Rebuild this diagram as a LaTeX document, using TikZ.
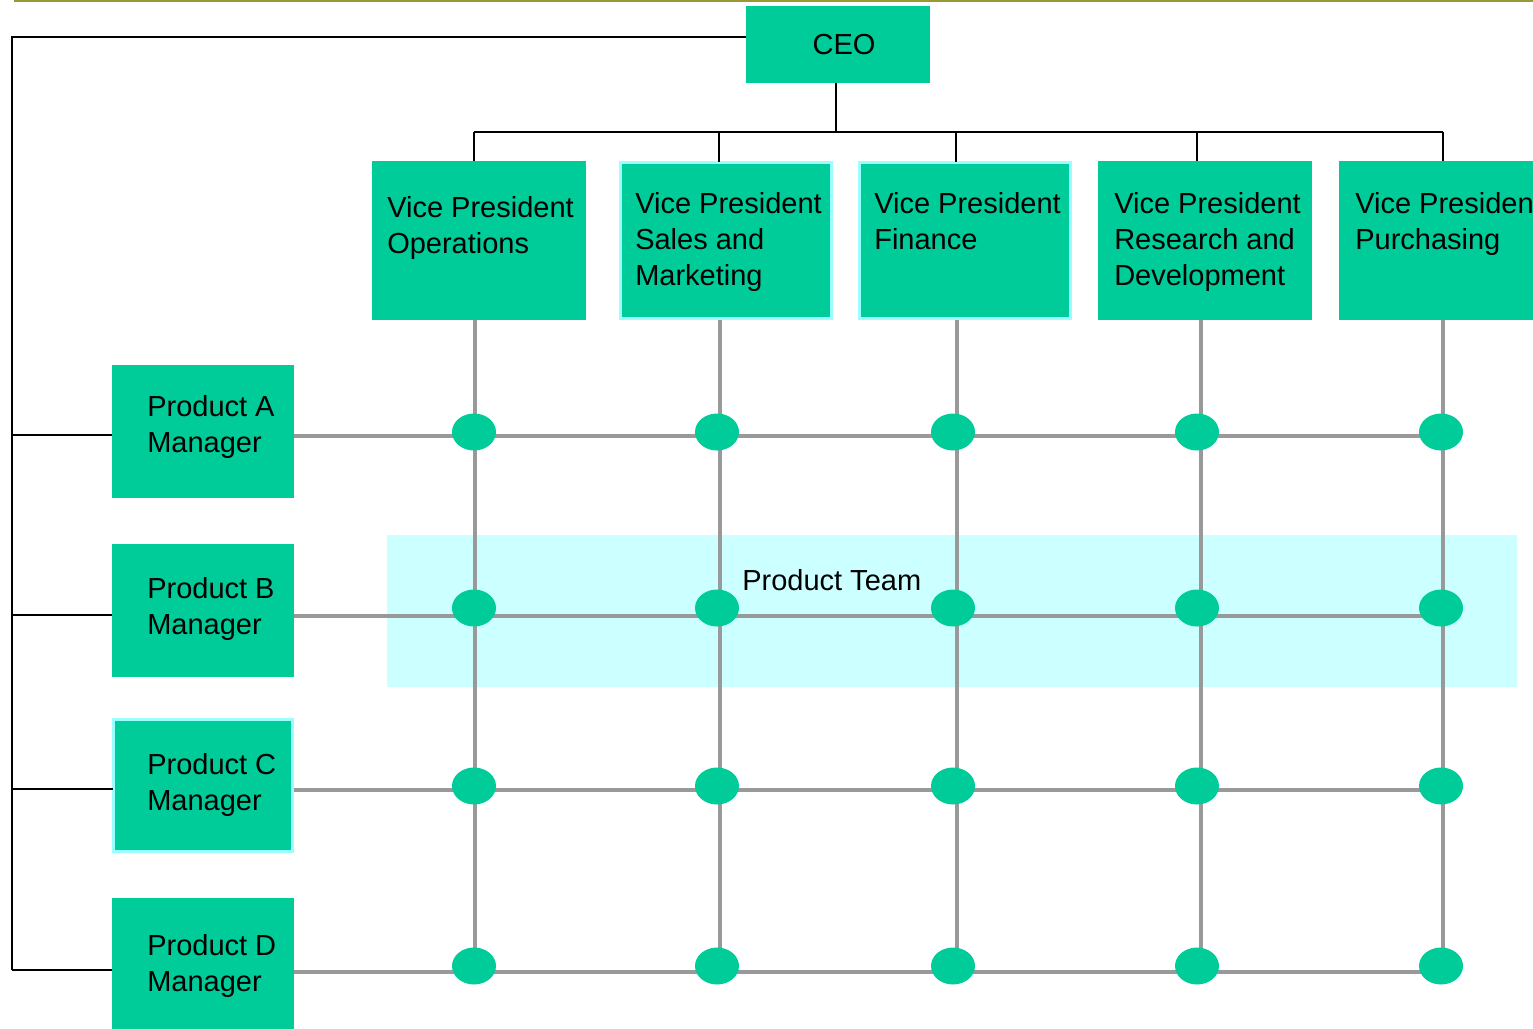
\documentclass[tikz,border=0pt]{standalone}
\usepackage{fontspec}
\setmainfont{Liberation Sans}
\usetikzlibrary{shapes.geometric}

\definecolor{teal}{RGB}{0,204,153}
\definecolor{edgecyan}{RGB}{153,255,255}
\definecolor{bandcyan}{RGB}{204,255,255}
\definecolor{gridgray}{RGB}{153,153,153}
\definecolor{olive}{RGB}{153,153,51}

\newcommand\chartfont{\fontsize{21.75pt}{27pt}\selectfont}

\tikzset{
  unitbox/.style={fill=teal, draw=none, inner sep=0pt, outer sep=0pt, anchor=north west, rectangle},
  vpbox/.style={unitbox, minimum width=160.5pt, minimum height=119.25pt},
  pmbox/.style={unitbox, minimum width=136.5pt, minimum height=99.75pt},
  rimmed/.style={draw=edgecyan, line width=2pt},
  caption/.style={anchor=north west, inner sep=0pt, align=left, font=\chartfont, text=black},
  org/.style={draw=black, line width=1.5pt},
  gridline/.style={draw=gridgray, line width=3pt},
  hub/.style={ellipse, fill=teal, draw=none, minimum width=33pt, minimum height=27.75pt, inner sep=0pt},
}

\begin{document}
\begin{tikzpicture}[x=0.75pt, y=-0.75pt]
\useasboundingbox (0,0) rectangle (1533,1028);
\clip (0,0) rectangle (1533,1028);

% rule along the top
\draw[draw=olive, line width=1.5pt] (14,1) -- (1533,1);

% product team band
\fill[bandcyan] (387,535) rectangle (1517,687);

% boxes
\node[unitbox, minimum width=138pt, minimum height=57.75pt] (ceo) at (746,6) {};
\node[vpbox] (ops) at (372,161) {};
\node[vpbox, rimmed, minimum width=158.5pt, minimum height=117.25pt] (sales) at (620.3,162.3) {};
\node[vpbox, rimmed, minimum width=158.5pt, minimum height=117.25pt] (fin) at (859.3,162.3) {};
\node[vpbox] (rnd) at (1098,161) {};
\node[vpbox] (pur) at (1339,161) {};
\node[pmbox] (pa) at (112,365) {};
\node[pmbox] (pb) at (112,544) {};
\node[pmbox, rimmed, minimum width=134.5pt, minimum height=99pt] (pc) at (113.3,719.8) {};
\node[pmbox] (pd) at (112,898) {};

% matrix grid: columns and rows
\coordinate (c1) at (475,320);
\coordinate (c2) at (720,320);
\coordinate (c3) at (957,320);
\coordinate (c4) at (1201,320);
\coordinate (c5) at (1443,320);
\coordinate (r1) at (294,436);
\coordinate (r2) at (294,616);
\coordinate (r3) at (294,790);
\coordinate (r4) at (294,972);
\foreach \c in {c1,c2,c3,c4,c5}
  \draw[gridline] (\c) -- (\c |- 0,974);
\foreach \r in {r1,r2,r3,r4}
  \draw[gridline] (\r) -- (\r -| c5);

% crossing points
\foreach \x [count=\i] in {474,717,953,1197,1441}
  \foreach \y [count=\j] in {432,608,786,966}
    \node[hub] (h\i\j) at (\x,\y) {};

% reporting lines
\coordinate (stem) at (836,132);
\draw[org] (stem |- ceo.south) -- (stem);
\coordinate (busw) at (474,132);
\coordinate (buse) at (1443,132);
\draw[org] (busw) -- (buse);
\coordinate (d1) at (474,132);
\coordinate (d2) at (719,132);
\coordinate (d3) at (956,132);
\coordinate (d4) at (1197,132);
\coordinate (d5) at (1443,132);
\draw[org] (d1) -- (d1 |- ops.north);
\draw[org] (d2) -- (d2 |- sales.north);
\draw[org] (d3) -- (d3 |- fin.north);
\draw[org] (d4) -- (d4 |- rnd.north);
\draw[org] (d5) -- (d5 |- pur.north);

\coordinate (spine) at (12,37);
\coordinate (spineend) at (12,970);
\draw[org] (spine -| ceo.west) -- (spine) -- (spineend);
\coordinate (ba) at (12,435);
\coordinate (bb) at (12,615);
\coordinate (bc) at (12,789);
\draw[org] (ba) -- (ba -| pa.west);
\draw[org] (bb) -- (bb -| pb.west);
\draw[org] (bc) -- (bc -| pc.west);
\draw[org] (spineend) -- (spineend -| pd.west);

% captions
\node[font=\chartfont, inner sep=0pt] (ceoT) at (844,44.5) {CEO};
\node[caption] (opsT) at (387,196) {Vice President\\Operations};
\node[caption] (salesT) at (635,192) {Vice President\\Sales and\\Marketing};
\node[caption] (finT) at (874,192) {Vice President\\Finance};
\node[caption] (rndT) at (1114,192) {Vice President\\Research and\\Development};
\node[caption] (purT) at (1355,192) {Vice President\\Purchasing};
\node[caption] (paT) at (147,395) {Product A\\Manager};
\node[caption] (pbT) at (147,577) {Product B\\Manager};
\node[caption] (pcT) at (147,753) {Product C\\Manager};
\node[caption] (pdT) at (147,934) {Product D\\Manager};
\node[caption] (teamT) at (742,569) {Product Team};
\end{tikzpicture}
\end{document}
